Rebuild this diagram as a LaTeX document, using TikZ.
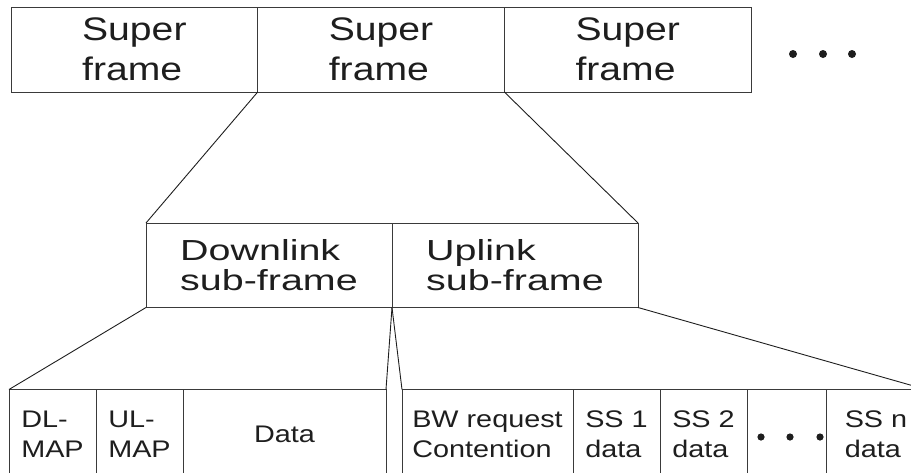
\documentclass[tikz,border=0pt]{standalone}
\usepackage{fontspec}
\setmainfont{Liberation Sans}
\newfontfamily\framefont[FakeStretch=1.2]{Liberation Sans}
\newfontfamily\subfont[FakeStretch=1.36]{Liberation Sans}
\newfontfamily\slotfont[FakeStretch=1.2]{Liberation Sans}
\usepackage{tikz}
\usetikzlibrary{positioning}
\definecolor{ink}{HTML}{1E1E1E}
\definecolor{rule}{HTML}{3A3A3A}

\begin{document}
\begin{tikzpicture}[x=1pt,y=-1pt,every node/.style={align=left,text=ink,inner sep=0pt,outer sep=0pt,anchor=north west},cell/.style={draw=rule,line width=1pt,minimum width=#1},super/.style={cell=#1,minimum height=85pt,font=\framefont\fontsize{32.6}{40}\selectfont},sub/.style={cell=#1,minimum height=84.5pt,font=\subfont\fontsize{29}{30}\selectfont},slot/.style={cell=#1,minimum height=90pt,font=\slotfont\fontsize{24}{30}\selectfont},link/.style={draw=ink,line width=0.9pt}]
\useasboundingbox (0,0) rectangle (911,472);
\clip (0,0) rectangle (911,472);
% super frames
\node[super=246.7pt] (sf1) at (11,7) {Super\\frame};
\node[super=246.7pt,right=0pt of sf1] (sf2) {Super\\frame};
\node[super=246.7pt,right=0pt of sf2] (sf3) {Super\\frame};
\foreach \x in {793,823,852} \fill[ink] (\x,54) circle[radius=4pt];
% sub-frames
\node[sub=246pt] (dl) at (146,223) {Downlink\\sub-frame};
\node[sub=246pt,right=0pt of dl] (ul) {Uplink\\sub-frame};
% slots
\node[slot=87pt] (dlmap) at (9,389.5) {DL-\\MAP};
\node[slot=87pt,right=0pt of dlmap] (ulmap) {UL-\\MAP};
\node[slot=203pt,right=0pt of ulmap] (data) {Data};
\node[slot=171pt,right=16pt of data] (bw) {BW request\\Contention};
\node[slot=87pt,right=0pt of bw] (ss1) {SS 1\\data};
\node[slot=87pt,right=0pt of ss1] (ss2) {SS 2\\data};
\node[slot=79pt,right=0pt of ss2] (more) {};
\node[slot=100pt,right=0pt of more] (ssn) {SS n\\data};
\foreach \x in {761,790,820} \fill[ink] (\x,437) circle[radius=3.6pt];
% zoom lines
\draw[link] (sf2.south west) -- (dl.north west);
\draw[link] (sf2.south east) -- (ul.north east);
\draw[link] (dl.south west) -- (dlmap.north west);
\draw[link] (dl.south east) -- (data.north east);
\draw[link] (ul.south west) -- (bw.north west);
\draw[link] (ul.south east) -- (ssn.north east);
\end{tikzpicture}
\end{document}
